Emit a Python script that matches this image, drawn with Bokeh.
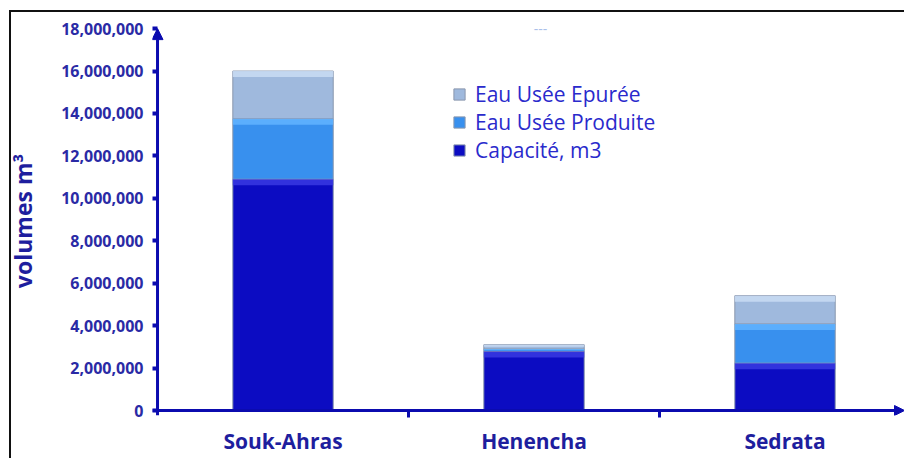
import numpy as np
from bokeh.plotting import figure
from bokeh.models import (FixedTicker, NumeralTickFormatter, Arrow, NormalHead,
                          Legend, LegendItem, Label, ColumnDataSource)
from bokeh.embed import file_html
from bokeh.resources import INLINE

# ---- data ----
sites = ["Souk-Ahras", "Henencha", "Sedrata"]
capacite = [10_900_000, 2_780_000, 2_230_000]
produite = [2_850_000, 120_000, 1_850_000]
epuree = [2_250_000, 200_000, 1_330_000]
series_labels = ["Capacité, m3", "Eau Usée Produite", "Eau Usée Epurée"]
y_ticks = [0, 2_000_000, 4_000_000, 6_000_000, 8_000_000, 10_000_000,
           12_000_000, 14_000_000, 16_000_000, 18_000_000]
y_title = "volumes m³"
header_text = "---"

# ---- styles ----
AXIS = "#0B0BAF"
TICK_TXT = "#2A2AA5"
LEG_TXT = "#2A2ACC"
COLORS = ["#0C0CC2", "#3890EE", "#9FB9DD"]
HILITE = ["#3A3AE2", "#62B4FF", "#C9DCF3"]
FONT = "Open Sans"
BEVEL = 280_000  # thickness of the lighter top edge of each segment (style)

x_pos = [i + 0.5 for i in range(len(sites))]
source = ColumnDataSource(dict(x=x_pos, cap=capacite, prod=produite, epu=epuree))

X_START, X_END = -0.02, 2.976
Y_START, Y_END = -235_000, 18_100_000
p = figure(width=902, height=456, x_range=(X_START, X_END),
           y_range=(Y_START, Y_END),
           output_backend="svg", toolbar_location=None,
           min_border_left=150, min_border_right=0, min_border_top=24,
           min_border_bottom=43)
# thin frame lines (top and left) of the original picture, drawn as inset shadows
p.styles = {"position": "absolute", "left": "2px", "top": "2px",
            "box-shadow": "inset 7px 8px 0 0 #ffffff, inset 9px 10px 0 0 #111111"}
p.border_fill_alpha = 0
p.xgrid.visible = False
p.ygrid.visible = False
p.outline_line_color = None

renderers = p.vbar_stack(["cap", "prod", "epu"], x="x", width=0.4, source=source,
                         color=COLORS, line_color="#8A97AD", line_width=1)

# lighter top edge of every stacked segment (bevel look)
segs = np.array([capacite, produite, epuree], dtype=float)
tops = np.cumsum(segs, axis=0)
for k in range(segs.shape[0]):
    band = np.minimum(segs[k] * 0.45, BEVEL)
    p.vbar(x=x_pos, top=tops[k], bottom=tops[k] - band, width=0.4,
           fill_color=HILITE[k], fill_alpha=0.85, line_color=None)

# x axis (ticks + labels from Bokeh, axis line drawn as arrow at y=0)
xa = p.xaxis[0]
xa.ticker = FixedTicker(ticks=x_pos, minor_ticks=[1, 2])
xa.major_label_overrides = {xp: name for xp, name in zip(x_pos, sites)}
xa.axis_line_color = None
xa.major_tick_line_color = None
xa.major_tick_out = 0
xa.major_tick_in = 0
xa.minor_tick_line_color = AXIS
xa.minor_tick_line_width = 3
xa.minor_tick_out = 2
xa.minor_tick_in = 5
xa.major_label_text_font = FONT
xa.major_label_text_font_style = "bold"
xa.major_label_text_font_size = "21px"
xa.major_label_text_color = "#1E1E9E"
xa.major_label_standoff = 9

# y axis (ticks + labels from Bokeh, axis line drawn as arrow at x=0)
ya = p.yaxis[0]
ya.ticker = FixedTicker(ticks=y_ticks)
ya.formatter = NumeralTickFormatter(format="0,0")
ya.axis_line_color = None
ya.major_tick_line_color = AXIS
ya.major_tick_line_width = 4
ya.major_tick_out = 0
ya.major_tick_in = 5
ya.minor_tick_line_color = None
ya.major_label_text_font = FONT
ya.major_label_text_font_style = "bold"
ya.major_label_text_font_size = "16px"
ya.major_label_text_color = TICK_TXT
ya.major_label_standoff = 9
ya.axis_label = y_title
ya.axis_label_text_font = FONT
ya.axis_label_text_font_style = "bold"
ya.axis_label_text_font_size = "23px"
ya.axis_label_text_color = "#1E1E9E"
ya.axis_label_standoff = 19

# axis lines with arrow heads
p.add_layout(Arrow(end=NormalHead(size=11, fill_color=AXIS, line_color=AXIS),
                   x_start=0, y_start=Y_START, x_end=0, y_end=y_ticks[-1],
                   line_color=AXIS, line_width=3))
p.add_layout(Arrow(end=NormalHead(size=10, fill_color=AXIS, line_color=AXIS),
                   x_start=X_START, y_start=0, x_end=X_END, y_end=0,
                   line_color=AXIS, line_width=3))

# faint header
p.add_layout(Label(x=1.526, y=y_ticks[-1], text=header_text, text_align="center",
                   text_baseline="middle", text_font=FONT, text_font_size="14px",
                   text_color="#A9C0EA"))

# legend
items = [LegendItem(label=series_labels[i], renderers=[renderers[i]]) for i in (2, 1, 0)]
legend = Legend(items=items, location=(300, 251), orientation="vertical",
                label_text_font=FONT, label_text_font_size="21px",
                label_text_color=LEG_TXT, glyph_width=14, glyph_height=14,
                label_standoff=9, label_height=28, spacing=0, padding=0, margin=0,
                border_line_color=None, background_fill_alpha=0)
p.add_layout(legend)

open("out.html", "w").write(file_html(p, INLINE))
